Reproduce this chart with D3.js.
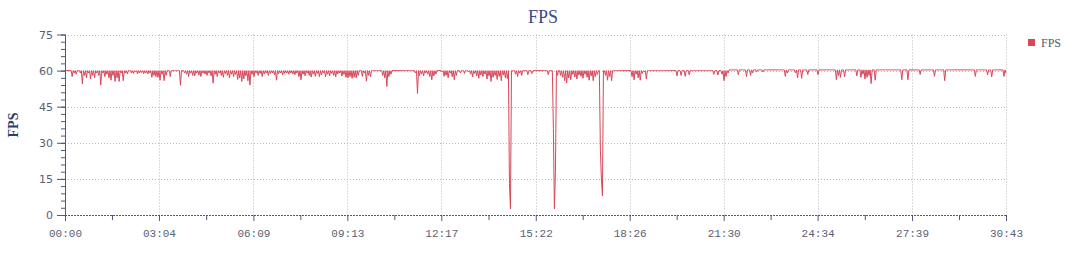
<!DOCTYPE html>
<html><head><meta charset="utf-8">
<script src="https://cdn.jsdelivr.net/npm/d3@7"></script>
<style>body{margin:0;background:#fff;overflow:hidden}</style>
</head><body><svg id="c" width="1080" height="255"></svg>
<script>
const chartTitle = "FPS";
const seriesName = "FPS";
const yAxisName = "FPS";
const timeLabels = ["00:00","03:04","06:09","09:13","12:17","15:22","18:26","21:30","24:34","27:39","30:43"];
const yTicks = [0,15,30,45,60,75];
// FPS readings, one every ~2 s over the 30:43 recording
const fps = [
60,60,60,60,60,60,60,57.5,60,59,60,58.5,60,60,60,59,60,54.5,60,58,60,57,60,59,60,56.5,60,58,60,57,60,59,60,58,60,54,60,59,60,57.5,60,58.5,60,57,
60,56,60,58,60,55.5,60,57,60,55.5,60,59,60,55.8,60,59,60,58.6,60,60,60,59,60,58.8,60,59.5,60,58.6,60,59,60,59.2,60,58.7,60,59,60,58.6,60,59,
60,57.2,60,58,60,57.5,60,57.2,60,56,60,58.5,60,55.8,60,58,60,60,60,57.5,60,60,60,60,60,60,60,60,60,53.9,60,60,60,59,
60,58.5,60,57.5,60,59,60,58,60,57.8,60,59,60,58.2,60,57.5,60,59,60,58.6,60,58,60,59,60,57.8,60,54.8,
60,58.5,60,57.5,60,59,60,58,60,57.2,60,58.8,60,58,60,57,60,58.5,60,57.5,60,58.4,60,56.3,60,57,60,55.5,60,56.5,60,57.8,60,55.8,60,54,
60,58.5,60,57.5,60,59,60,58,60,58.8,60,57.5,60,58.6,60,59,60,58,60,58.8,60,59,60,58.3,60,56,60,58.6,60,59,60,58.2,60,58.8,60,59,60,58.5,60,59,60,58.6,60,58.3,60,59,
60,57.5,60,56.2,60,58.5,60,57.8,60,59,60,58,60,57.3,60,58.6,60,57.6,60,58.8,60,57.5,60,58.2,60,59,60,57.4,60,58.5,60,57.8,60,58.8,60,58,60,57.4,60,58.6,60,59,60,57.7,60,58.4,60,57.2,
60,57,60,57.5,60,56.8,60,57.2,60,57,60,58,60,60,60,57.6,60,59,60,55.6,60,58,60,57.4,60,60,60,60,60,60,60,60,60,60,60,58,60,57,60,53.4,60,57.5,60,58.5,
60,60,60,60,60,60,60,60,60,60,60,60,60,60,60,60,60,60,60,60,60,60,
60,59,60,50.5,60,58,60,58.6,60,57.8,60,59,60,58.5,60,57.5,60,56.2,60,57.8,60,58.5,60,60,60,60,60,59.5,60,57.6,60,58,60,57,60,59,60,57.5,60,56.2,60,58,
60,60,60,59,60,60,60,58.8,60,60,60,59.5,
60,58.5,60,57.4,60,58.8,60,57.8,60,56.8,60,58.2,60,57.5,60,58.6,60,56.5,60,57.8,60,55.5,60,57.2,60,58,60,56.3,60,57.6,60,55.8,60,58.2,60,57,60,56.6,
60,13,2.5,60,
60,60,60,58.5,60,57.5,60,59,60,58,60,60,60,60,60,58.3,60,60,60,58.8,60,60,60,60,
60,60,60,60,60,60,60,60,60,60,60,58.3,60,60,60,60,
36,2.5,18,60,58,60,
60,58,60,57.2,60,55.8,60,54.8,60,57,60,56.2,60,58.5,60,57.3,60,56.5,60,58.2,60,57.6,60,56.8,60,58.5,60,57.2,60,56,60,57.8,60,55.8,60,57.5,60,58.4,
60,60,27,15,8,60,
60,58,60,56,60,57.5,60,55.8,
60,60,60,60,60,60,60,60,60,60,60,60,60,60,60,60,60,60,
60,57.5,60,56.2,60,58.5,60,57,60,56,60,58.8,60,59.5,60,56.5,
60,60,60,60,60,60,60,60,60,60,60,60,60,60,60,60,60,60,60,60,60,60,60,60,60,60,60,60,
60,57.8,60,60,60,58,60,60,60,57.6,60,60,60,58.2,60,60,
60,60,60,60,60,60,60,60,60,60,60,60,60,60,60,60,60,60,60,60,
60,58.4,60,60,60,58.2,60,60,
60,58.5,60,55.8,60,57.5,60,59,
60.3,60.3,60.3,60.3,60.3,60.3,60.3,60.3,60.3,58.3,60.3,60.3,60.3,60.3,60.3,60.3,60.3,57.5,60.3,60.3,60.3,58,60.3,59,60.3,60.3,60.3,59.5,60.3,60.3,60.3,60.3,60.3,59.4,60.3,60.3,60.3,60.3,60.3,60.3,60.3,60.3,
60.3,60.3,60.3,60.3,60.3,60.3,60.3,60.3,60.3,60.3,60.3,60.3,60.3,57.6,60.3,59,60.3,60.3,60.3,60.3,60.3,60.3,60.3,59,60.3,57,60.3,60.3,60.3,56.8,60.3,60.3,60.3,60.3,60.3,58.4,
60.3,60.3,60.3,60.3,60.3,60.3,60.3,60.3,60.3,58.3,60.3,60.3,60.3,60.3,60.3,60.3,60.3,60.3,60.3,60.3,60.3,60.3,60.3,60.3,
60.3,60.3,60.3,56.2,60.3,58,60.3,57.2,60.3,60.3,60.3,57.4,60.3,60.3,60.3,60.3,60.3,60.3,60.3,60.3,60.3,60.3,
60.3,57.8,60.3,60.3,60.3,57.2,60.3,58.5,60.3,56.5,60.3,57.2,60.3,58,60.3,54.6,60.3,60.3,60.3,56,
60.3,60.3,60.3,60.3,60.3,60.3,60.3,60.3,60.3,60.3,60.3,60.3,60.3,60.3,60.3,60.3,60.3,60.3,60.3,60.3,60.3,60.3,60.3,60.3,60.3,56.2,60.3,60.3,60.3,60.3,60.3,56.2,
60.3,60.3,60.3,60.3,60.3,60.3,60.3,60.3,60.3,60.3,60.3,58.4,60.3,60.3,60.3,60.3,60.3,60.3,60.3,60.3,60.3,60.3,60.3,60.3,60.3,57.6,60.3,60.3,60.3,60.3,60.3,60.3,60.3,60.3,60.3,55.8,
60.3,60.3,60.3,60.3,60.3,60.3,60.3,60.3,60.3,60.3,60.3,60.3,60.3,60.3,60.3,60.3,60.3,60.3,60.3,60.3,60.3,60.3,60.3,60.3,60.3,60.3,60.3,60.3,60.3,57.6,
60.3,60.3,60.3,60.3,60.3,60.3,60.3,60.3,60.3,60.3,60.3,58.2,60.3,60.3,60.3,57.4,60.3,60.3,60.3,60.3,60.3,60.3,60.3,60.3,60.3,60.3,60.3,57.6,60.3,59
];

const lineColor = "#d9475a";
const axisColor = "#4e5880";
const gridColor = "#b9b9b9";
const labelColor = "#5b6074";

const toSec = s => { const [m, ss] = s.split(":").map(Number); return m * 60 + ss; };
const tickSecs = timeLabels.map(toSec);
const total = tickSecs[tickSecs.length - 1];

const svg = d3.select("#c");
const x = d3.scaleLinear().domain([0, total]).range([65, 1006]);
const y = d3.scaleLinear().domain([0, 75]).range([215, 34.5]);

// grid
const g = svg.append("g");
g.selectAll("line.vg").data(tickSecs.slice(1)).join("line")
  .attr("x1", d => Math.round(x(d)) + 0.5).attr("x2", d => Math.round(x(d)) + 0.5)
  .attr("y1", y(75)).attr("y2", y(0))
  .attr("stroke", gridColor).attr("stroke-dasharray", "1,2");
g.selectAll("line.hg").data(yTicks.filter(v => v > 0)).join("line")
  .attr("x1", x(0)).attr("x2", x(total))
  .attr("y1", d => Math.round(y(d)) + 0.5).attr("y2", d => Math.round(y(d)) + 0.5)
  .attr("stroke", gridColor).attr("stroke-dasharray", "1,2");

// series
const line = d3.line()
  .x((d, i) => x(i * total / (fps.length - 1)))
  .y(d => y(d));
svg.append("path").datum(fps)
  .attr("d", line).attr("fill", "none")
  .attr("stroke", lineColor).attr("stroke-width", 1);

// y axis
const yMinor = d3.range(0, 76, 3);
const yMin = svg.append("g").attr("transform", `translate(${x(0)},0)`)
  .call(d3.axisLeft(y).tickValues(yMinor).tickSize(4).tickFormat(""));
const yAx = svg.append("g").attr("transform", `translate(${x(0)},0)`)
  .call(d3.axisLeft(y).tickValues(yTicks).tickSize(8).tickPadding(4));
[yMin, yAx].forEach(a => {
  a.selectAll("path,line").attr("stroke", axisColor);
  a.select(".domain").attr("d", `M0.5,${y(75)}V${y(0)}`);
});
yAx.selectAll("text").attr("fill", labelColor)
  .style("font-family", "'DejaVu Sans', sans-serif").style("font-size", "11px");

// x axis
const mids = tickSecs.slice(1).map((d, i) => (d + tickSecs[i]) / 2);
const xMin = svg.append("g").attr("transform", `translate(0,${y(0)})`)
  .call(d3.axisBottom(x).tickValues(mids).tickSize(5).tickFormat(""));
const xAx = svg.append("g").attr("transform", `translate(0,${y(0)})`)
  .call(d3.axisBottom(x).tickValues(tickSecs).tickSize(6).tickPadding(8)
    .tickFormat((d, i) => timeLabels[i]));
[xMin, xAx].forEach(a => a.selectAll("path,line").attr("stroke", axisColor));
xMin.select(".domain").remove();
xAx.select(".domain").attr("d", `M${x(0)},0.5H${x(total)}`).attr("stroke-dasharray", "2,1");
xAx.selectAll("text").attr("fill", labelColor)
  .style("font-family", "'Liberation Mono', monospace").style("font-size", "11px");

// title
svg.append("text").attr("x", 543).attr("y", 23).attr("text-anchor", "middle")
  .attr("fill", "#3a4a8a").style("font-family", "'Liberation Serif', serif")
  .style("font-size", "18px").text(chartTitle);

// y axis name
svg.append("text").attr("transform", "translate(18,125) rotate(-90)")
  .attr("text-anchor", "middle").attr("fill", "#2f3c6c")
  .style("font-family", "'Liberation Serif', serif").style("font-weight", "bold")
  .style("font-size", "14px").text(yAxisName);

// legend
svg.append("rect").attr("x", 1028).attr("y", 39).attr("width", 7).attr("height", 7).attr("fill", lineColor);
svg.append("text").attr("x", 1041).attr("y", 47).attr("fill", "#555a6c")
  .style("font-family", "'Liberation Serif', serif").style("font-size", "12px").text(seriesName);
</script>
</body></html>
